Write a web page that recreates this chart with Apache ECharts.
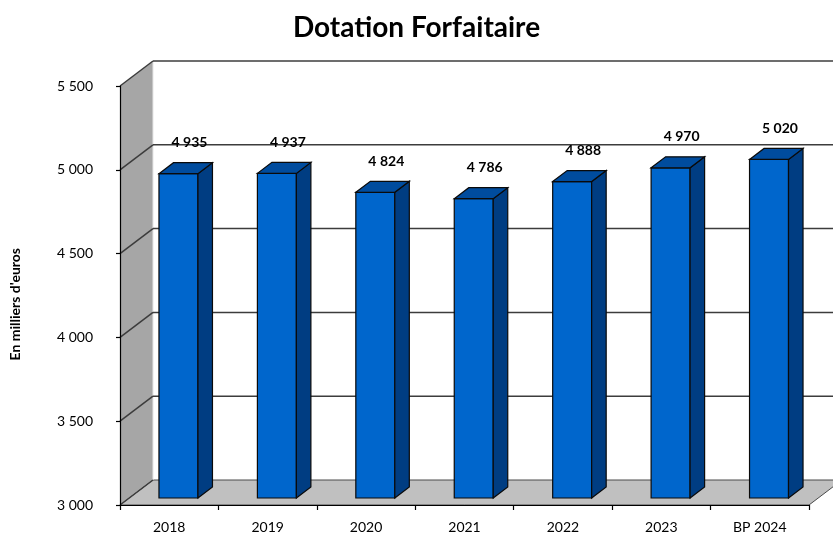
<!DOCTYPE html>
<html>
<head>
<meta charset="utf-8">
<script src="https://cdn.jsdelivr.net/npm/echarts@6/dist/echarts.min.js"></script>
<style>
  html, body { margin: 0; padding: 0; background: #fff; }
  #chart { width: 833px; height: 537px; }
</style>
</head>
<body>
<div id="chart"></div>
<script>
const categories = ["2018", "2019", "2020", "2021", "2022", "2023", "BP 2024"];
const values = [4935, 4937, 4824, 4786, 4888, 4970, 5020];
const yTicks = [3000, 3500, 4000, 4500, 5000, 5500];

const yMin = 3000;
const yMax = 5500;
// 3D depth of the box (pixels) and depth span of the bars (fraction)
const DX = 33, DY = -25;
const D1 = 0.28, D2 = 0.72;
const FONT = "Lato";

function fmt(v) {
  return String(v).replace(/\B(?=(\d{3})+(?!\d))/g, " ");
}

function renderWalls(params, api) {
  const cs = params.coordSys;
  const x0 = cs.x, x1 = cs.x + cs.width;
  const yb = api.coord([0, yMin])[1];
  const yt = api.coord([0, yMax])[1];
  const lineStyle = { stroke: "#3c3c3c", lineWidth: 1.5 };
  const children = [];
  // left side wall
  children.push({
    type: "polygon",
    shape: { points: [[x0, yb], [x0, yt], [x0 + DX, yt + DY], [x0 + DX, yb + DY]] },
    style: { fill: "#A6A6A6", stroke: null }
  });
  // floor
  children.push({
    type: "polygon",
    shape: { points: [[x0, yb], [x1, yb], [x1 + DX, yb + DY], [x0 + DX, yb + DY]] },
    style: { fill: "#C0C0C0", stroke: "#4a4a4a", lineWidth: 1 }
  });
  // back-left edge
  children.push({
    type: "line",
    shape: { x1: x0 + DX, y1: yt + DY, x2: x0 + DX, y2: yb + DY },
    style: { stroke: "#e6e6e6", lineWidth: 1 }
  });
  yTicks.forEach(t => {
    const y = api.coord([0, t])[1];
    children.push({
      type: "line",
      shape: { x1: x0, y1: y, x2: x0 + DX, y2: y + DY },
      style: lineStyle
    });
    if (t !== yMin) {
      children.push({
        type: "line",
        shape: { x1: x0 + DX, y1: y + DY, x2: x1 + DX, y2: y + DY },
        style: lineStyle
      });
    }
  });
  return { type: "group", children: children };
}

function renderBar(params, api) {
  const i = api.value(0);
  const v = api.value(1);
  const base = api.coord([i, yMin]);
  const top = api.coord([i, v])[1];
  const w = api.size([1, 0])[0];
  const hw = w * 0.198;
  const fx = base[0] + D1 * DX;
  const fyB = base[1] + D1 * DY;
  const fyT = top + D1 * DY;
  const ddx = (D2 - D1) * DX, ddy = (D2 - D1) * DY;
  const edge = { stroke: "#0a0a0a", lineWidth: 1.2 };
  return {
    type: "group",
    children: [
      {
        type: "rect",
        shape: { x: fx - hw, y: fyT, width: hw * 2, height: fyB - fyT },
        style: Object.assign({ fill: "#0066CC" }, edge)
      },
      {
        type: "polygon",
        shape: { points: [[fx + hw, fyT], [fx + hw + ddx, fyT + ddy], [fx + hw + ddx, fyB + ddy], [fx + hw, fyB]] },
        style: Object.assign({ fill: "#003D82" }, edge)
      },
      {
        type: "polygon",
        shape: { points: [[fx - hw, fyT], [fx - hw + ddx, fyT + ddy], [fx + hw + ddx, fyT + ddy], [fx + hw, fyT]] },
        style: Object.assign({ fill: "#004C9E" }, edge)
      },
      {
        type: "text",
        style: {
          x: fx + 11, y: fyT - 31,
          text: fmt(v),
          fill: "#000",
          font: "bold 14px " + FONT,
          align: "center",
          verticalAlign: "middle"
        }
      }
    ]
  };
}

const chart = echarts.init(document.getElementById("chart"));
const option = {
  animation: false,
  backgroundColor: "#fff",
  title: {
    text: "Dotation Forfaitaire",
    left: "center",
    top: 9,
    textStyle: { fontFamily: FONT, fontWeight: "bold", fontSize: 28, color: "#000" }
  },
  graphic: [
    {
      type: "text",
      left: 8,
      top: 248,
      rotation: Math.PI / 2,
      style: {
        text: "En milliers d'euros",
        font: "bold 14px " + FONT,
        fill: "#000"
      }
    }
  ],
  grid: { left: 120, right: 24, top: 86, bottom: 32 },
  xAxis: {
    type: "category",
    data: categories,
    z: 10,
    axisLine: { show: true, lineStyle: { color: "#000", width: 1.2 } },
    axisTick: { show: true, length: 5, lineStyle: { color: "#000", width: 1.2 } },
    axisLabel: { margin: 15, fontFamily: FONT, fontSize: 14, color: "#000" },
    splitLine: { show: false }
  },
  yAxis: {
    type: "value",
    min: yMin,
    max: yMax,
    interval: 500,
    z: 10,
    axisLine: { show: true, lineStyle: { color: "#000", width: 1.2 } },
    axisTick: { show: true, length: 4, lineStyle: { color: "#000", width: 1.2 } },
    axisLabel: { margin: 27, fontFamily: FONT, fontSize: 14, color: "#000", formatter: v => fmt(v) },
    splitLine: { show: false }
  },
  series: [
    {
      type: "custom",
      z: 1,
      silent: true,
      renderItem: renderWalls,
      data: [[0, yMin]]
    },
    {
      type: "custom",
      z: 3,
      renderItem: renderBar,
      data: values.map((v, i) => [i, v])
    }
  ]
};
chart.setOption(option);
</script>
</body>
</html>
